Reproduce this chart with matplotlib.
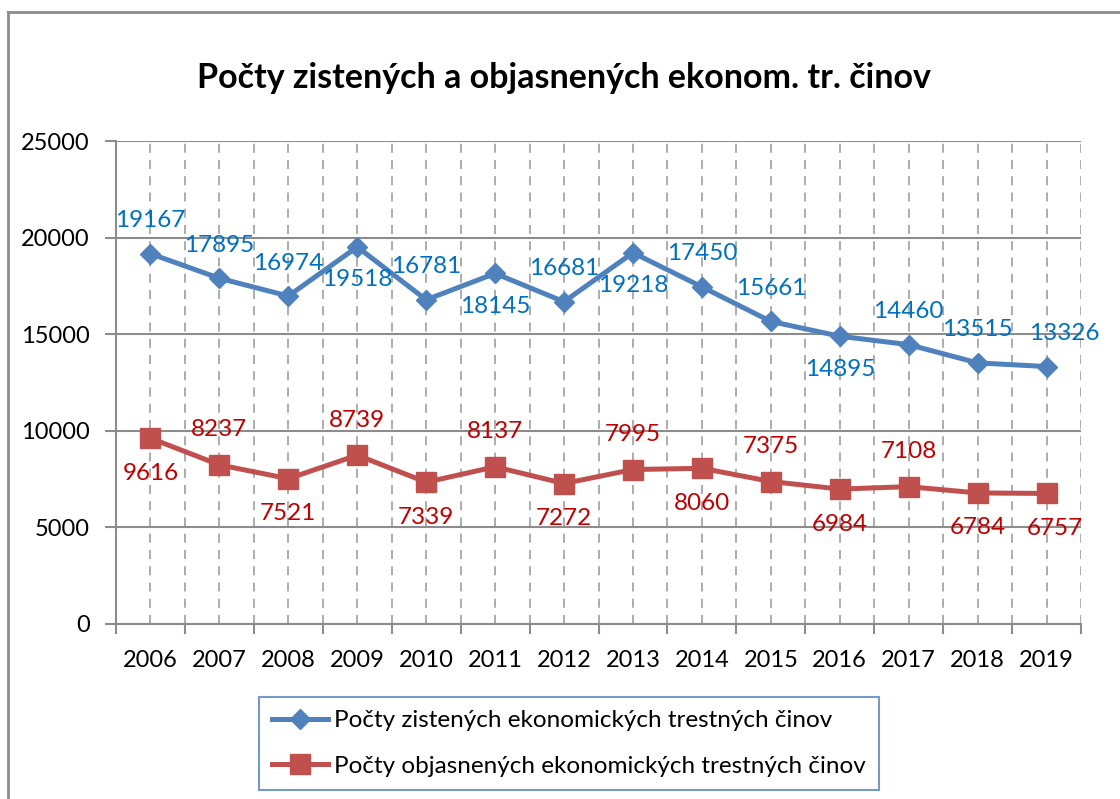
import numpy as np
import matplotlib
matplotlib.use('Agg')
import matplotlib.pyplot as plt
from matplotlib.lines import Line2D

plt.rcParams['font.family'] = ['Lato', 'DejaVu Sans']

years = ['2006', '2007', '2008', '2009', '2010', '2011', '2012',
         '2013', '2014', '2015', '2016', '2017', '2018', '2019']
zistene = [19167, 17895, 16974, 19518, 16781, 18145, 16681,
           19218, 17450, 15661, 14895, 14460, 13515, 13326]
objasnene = [9616, 8237, 7521, 8739, 7339, 8137, 7272,
             7995, 8060, 7375, 6984, 7108, 6784, 6757]
# pozicia popisov: 1 = nad bodom, -1 = pod bodom
pos_zist = [1, 1, 1, -1, 1, -1, 1, -1, 1, 1, -1, 1, 1, 1]
pos_obj = [-1, 1, -1, 1, -1, 1, -1, 1, -1, 1, -1, 1, -1, -1]

title = 'Počty zistených a objasnených ekonom. tr. činov'
label_zist = 'Počty zistených ekonomických trestných činov'
label_obj = 'Počty objasnených ekonomických trestných činov'

blue = '#4F81BD'
red = '#C0504D'
grid_col = '#8C8C8C'

W, H = 1120, 799
fig = plt.figure(figsize=(W / 100, H / 100), dpi=100)
ax = fig.add_axes([116 / W, 1 - 624 / H, (1081 - 116) / W, (624 - 141) / H])

x = np.arange(len(years))
ax.plot(x, zistene, color=blue, lw=3.6, marker='D', ms=10, label=label_zist, zorder=3)
ax.plot(x, objasnene, color=red, lw=3.6, marker='s', ms=14, label=label_obj, zorder=3)

# popisky hodnot
for i, (v, p) in enumerate(zip(zistene, pos_zist)):
    dx = 18 if i == len(years) - 1 else 0
    ax.annotate(str(v), (x[i], v), xytext=(dx, 33 * p), textcoords='offset pixels',
                ha='center', va='center', color='#0070C0', fontsize=17.5, zorder=4)
for i, (v, p) in enumerate(zip(objasnene, pos_obj)):
    dx = 8 if i == len(years) - 1 else 0
    ax.annotate(str(v), (x[i], v), xytext=(dx, 35 * p), textcoords='offset pixels',
                ha='center', va='center', color='#C00000', fontsize=17.5, zorder=4)

ax.set_xlim(-0.5, len(years) - 0.5)
ax.set_ylim(0, 25000)
ax.set_yticks(np.arange(0, 25001, 5000))
ax.set_xticks(np.arange(-0.5, len(years), 1.0))
ax.set_xticklabels([])
ax.set_xticks(x, minor=True)
ax.set_xticklabels(years, minor=True)

ax.tick_params(axis='x', which='major', length=7, width=1.5, color=grid_col, direction='out')
ax.tick_params(axis='x', which='minor', length=0, pad=19, labelsize=17)
ax.tick_params(axis='y', length=8, width=1.5, color=grid_col, pad=11, labelsize=17)

ax.grid(axis='y', color=grid_col, lw=1.5, ls='-')
ax.grid(axis='x', which='both', color='#A6A6A6', lw=1.3, ls=(0, (5, 4)))
ax.set_axisbelow(True)

for s in ['top', 'right']:
    ax.spines[s].set_visible(False)
for s in ['left', 'bottom']:
    ax.spines[s].set_color(grid_col)
    ax.spines[s].set_linewidth(1.5)

fig.text(564 / W, 1 - 78 / H, title, ha='center', va='center',
         fontsize=24.5, fontweight='bold')

# legenda
leg = fig.legend(loc='upper left', bbox_to_anchor=(259 / W, 1 - 697 / H),
                 fontsize=17.5, frameon=True, fancybox=False, handlelength=2.3,
                 labelspacing=1.0, borderpad=0.55, handletextpad=0.25,
                 borderaxespad=0)
leg.get_frame().set_edgecolor(blue)
leg.get_frame().set_linewidth(1.5)

# vonkajsi ramik
fig.add_artist(Line2D([7.5 / W, 7.5 / W], [0, 1 - 12 / H], color='#8C8C8C', lw=2,
                      transform=fig.transFigure))
fig.add_artist(Line2D([7.5 / W, 1], [1 - 12 / H, 1 - 12 / H], color='#8C8C8C', lw=2,
                      transform=fig.transFigure))

fig.savefig('out.png', dpi=100)
